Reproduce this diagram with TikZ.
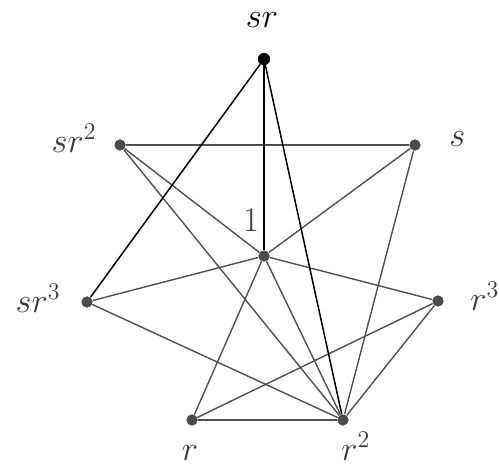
\documentclass[tikz,border=0pt]{standalone}
\definecolor{edgegray}{HTML}{505050}
\definecolor{dotgray}{HTML}{4A4A4A}
\definecolor{labgray}{HTML}{3A3A3A}
\tikzset{
  dot/.style={circle, fill=dotgray, inner sep=0pt, minimum size=5.5pt},
  topdot/.style={circle, fill=black, inner sep=0pt, minimum size=6pt},
  lab/.style={inner sep=0pt, text=labgray, font=\fontsize{17}{20}\selectfont},
  edge/.style={draw=edgegray, line width=0.7pt},
  topedge/.style={draw=black, line width=0.75pt}
}
\begin{document}
\begin{tikzpicture}[x=0.5pt,y=-0.5pt]
\useasboundingbox (0,0) rectangle (499,467);
% vertices
\node[topdot] (sr) at (264,59) {};
\node[dot] (sr2) at (120,145) {};
\node[dot] (s) at (415,145) {};
\node[dot] (one) at (264,256) {};
\node[dot] (sr3) at (87,302) {};
\node[dot] (r3) at (438,301) {};
\node[dot] (r) at (192,420) {};
\node[dot] (r2) at (343,420) {};
% labels
\node[lab, text=black, anchor=base] (lsr) at (262,27) {$sr$};
\node[lab, anchor=base east] (lsr2) at (97,152) {$sr^2$};
\node[lab, anchor=base west] (ls) at (449,146) {$s$};
\node[lab, anchor=base] (lone) at (251,231) {$1$};
\node[lab, anchor=base east] (lsr3) at (61,312) {$sr^3$};
\node[lab, anchor=base west] (lr3) at (470,310) {$r^3$};
\node[lab, anchor=base] (lr) at (190,460) {$r$};
\node[lab, anchor=base west] (lr2) at (341,460) {$r^2$};
% edges
\draw[edge] (sr2) -- (s);
\draw[edge] (sr2) -- (one);
\draw[edge] (sr2) -- (r2);
\draw[edge] (s) -- (one);
\draw[edge] (s) -- (r2);
\draw[edge] (one) -- (sr3);
\draw[edge] (one) -- (r3);
\draw[edge] (one) -- (r);
\draw[edge] (one) -- (r2);
\draw[edge] (sr3) -- (r2);
\draw[edge] (r3) -- (r);
\draw[edge] (r3) -- (r2);
\draw[edge] (r) -- (r2);
\draw[topedge] (sr) -- (sr3);
\draw[topedge] (sr) -- (one);
\draw[topedge] (sr) -- (r2);
% redraw dots on top
\node[topdot] at (sr) {};
\foreach \v in {sr2,s,one,sr3,r3,r,r2} \node[dot] at (\v) {};
\end{tikzpicture}
\end{document}
